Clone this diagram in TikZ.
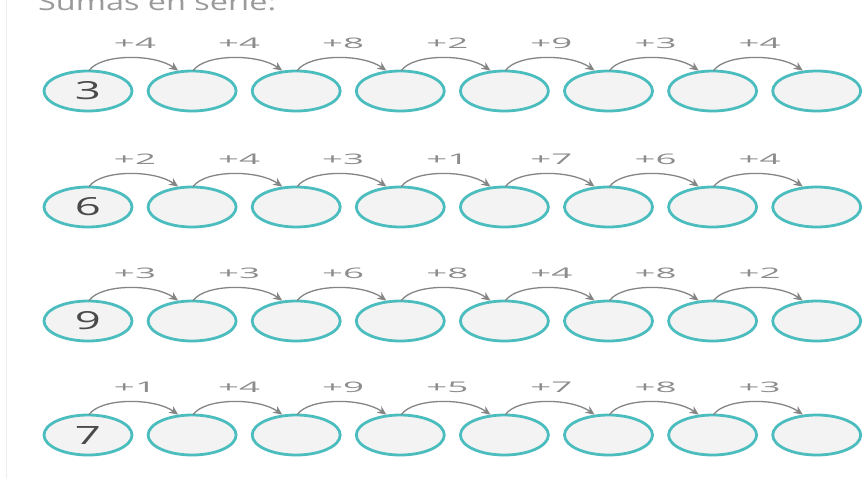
\documentclass[tikz,border=0pt]{standalone}
\usepackage{fontspec}
\setmainfont{Open Sans}
\usetikzlibrary{shapes.geometric,arrows.meta,calc}
\definecolor{ring}{HTML}{4CBDBE}
\definecolor{disc}{HTML}{F3F3F3}
\definecolor{numgray}{HTML}{4A4A4A}
\definecolor{labgray}{HTML}{8C8C8C}
\definecolor{arcgray}{HTML}{858585}
\definecolor{titlegray}{HTML}{9A9A9A}
\newcommand{\digitbox}[1]{\resizebox{26pt}{18pt}{#1}}
\newcommand{\addbox}[1]{\resizebox{42pt}{10.5pt}{#1}}
\tikzset{
  cell/.style={ellipse, draw=ring, fill=disc, line width=2.8pt, minimum width=88pt, minimum height=40pt, inner sep=0pt, text=numgray},
  hop/.style={draw=arcgray, line width=1.3pt, -{Stealth[length=9pt,width=8pt]}},
  hoplabel/.style={text=labgray, inner sep=0pt},
  title/.style={text=titlegray, inner sep=0pt, anchor=base west}
}
\begin{document}
\begin{tikzpicture}[x=1pt,y=-1pt]
\useasboundingbox (0,0) rectangle (864,479);
\clip (0,0) rectangle (864,479);
\fill[white] (0,0) rectangle (864,479);
\draw[draw=black!7, line width=1pt] (6,0) -- (6,479);
\node[title] (ttl) at (38,11) {\resizebox{238pt}{17pt}{Sumas en serie:}};
\foreach \r/\y/\start/\adds in {1/91/3/{4,4,8,2,9,3,4}, 2/207/6/{2,4,3,1,7,6,4}, 3/321/9/{3,3,6,8,4,8,2}, 4/435/7/{1,4,9,5,7,8,3}} {
  \node[cell] (c\r-0) at (88,\y) {\digitbox{\start}};
  \foreach \i in {1,...,7} {
    \node[cell] (c\r-\i) at ({88+104.1*\i},\y) {};
  }
  \foreach \a [count=\i from 1] in \adds {
    \pgfmathtruncatemacro{\p}{\i-1}
    \draw[hop] ([xshift=1pt,yshift=-1pt]c\r-\p.north) .. controls +(12,-17) and +(-24,-17) .. ([xshift=-14pt,yshift=-1pt]c\r-\i.north);
    \node[hoplabel] (l\r-\i) at ({88+104.1*\p+47},\y-48) {\addbox{+\a}};
  }
}
\end{tikzpicture}
\end{document}
